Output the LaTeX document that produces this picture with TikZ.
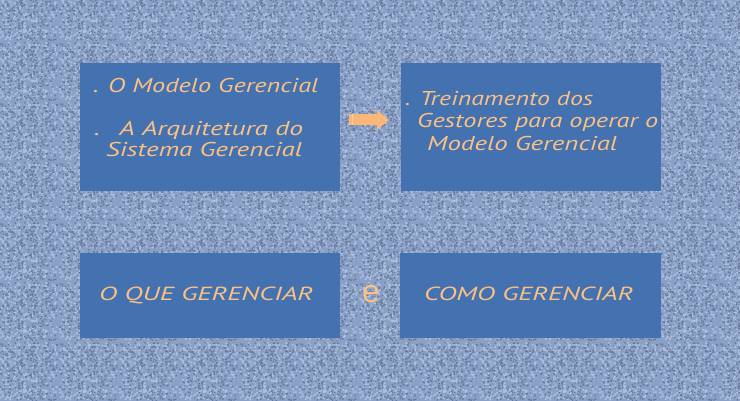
\documentclass[tikz,border=0pt]{standalone}
\usepackage{fontspec}
\usepackage{graphicx}
\usetikzlibrary{patterns}
\setmainfont{PT Sans}
\newfontfamily\efont{Liberation Sans}
\definecolor{bgc}{RGB}{138,160,198}
\definecolor{bglight}{RGB}{174,194,226}
\definecolor{bgdark}{RGB}{104,122,156}
\definecolor{boxc}{RGB}{68,114,176}
\definecolor{txtc}{RGB}{250,192,132}
\definecolor{arrc}{RGB}{251,182,122}
\newcommand\fitw[2]{\resizebox{#1}{\height}{#2}}
\pgfmathsetseed{7}
\pgfdeclarepatterninherentlycolored{granite}{\pgfpointorigin}{\pgfqpoint{60pt}{60pt}}{\pgfqpoint{60pt}{60pt}}{%
  \pgfsetfillcolor{bgc}%
  \pgfpathrectangle{\pgfqpoint{-0.5pt}{-0.5pt}}{\pgfqpoint{61pt}{61pt}}\pgfusepath{fill}%
  \pgfsetfillcolor{bglight}%
  \foreach \i in {1,...,330}{%
    \pgfmathsetmacro\px{58.4*rnd}\pgfmathsetmacro\py{58.4*rnd}%
    \pgfpathrectangle{\pgfpoint{\px pt}{\py pt}}{\pgfpoint{1.6pt}{1.6pt}}\pgfusepath{fill}%
  }%
  \pgfsetfillcolor{bgdark}%
  \foreach \i in {1,...,280}{%
    \pgfmathsetmacro\px{58.5*rnd}\pgfmathsetmacro\py{58.5*rnd}%
    \pgfpathrectangle{\pgfpoint{\px pt}{\py pt}}{\pgfpoint{1.5pt}{1.5pt}}\pgfusepath{fill}%
  }%
}
\begin{document}
\begin{tikzpicture}[x=1pt,y=-1pt,
  panel/.style={fill=boxc, draw=none, inner sep=0pt, anchor=north west},
  txtline/.style={anchor=base west, inner sep=0pt, text=txtc, font=\itshape\fontsize{20}{24}\selectfont},
  capline/.style={anchor=base west, inner sep=0pt, text=txtc, font=\itshape\fontsize{19}{22}\selectfont}]
\useasboundingbox (0,0) rectangle (740,400);
\fill[bgc] (0,0) rectangle (740,400);
\fill[pattern=granite] (0,0) rectangle (740,400);
% panels
\node[panel, minimum width=260pt, minimum height=128pt] (p1) at (80,63) {};
\node[panel, minimum width=260pt, minimum height=128pt] (p2) at (401,63) {};
\node[panel, minimum width=260pt, minimum height=85pt] (p3) at (80,253) {};
\node[panel, minimum width=261pt, minimum height=85pt] (p4) at (400,253) {};
% texts top-left
\node[txtline] (t1) at (93,92) {\fitw{225pt}{. O Modelo Gerencial}};
\node[txtline] (t2) at (94,135) {\fitw{209pt}{.\hspace{0.7em}A Arquitetura do}};
\node[txtline] (t3) at (106,156) {\fitw{196pt}{Sistema Gerencial}};
% texts top-right
\node[txtline] (t4) at (405,105) {\fitw{188pt}{. Treinamento dos}};
\node[txtline] (t5) at (417,127) {\fitw{241pt}{Gestores para operar o}};
\node[txtline] (t6) at (427,150) {\fitw{190pt}{Modelo Gerencial}};
% bottom
\node[capline] (t7) at (99,300) {\fitw{214pt}{O QUE GERENCIAR}};
\node[capline] (t8) at (424,300) {\fitw{209pt}{COMO GERENCIAR}};
\node[anchor=base, inner sep=0pt, text=txtc, font=\efont\fontsize{32}{36}\selectfont] (e) at (371,302) {e};
% arrow
\coordinate (ar) at (349,119.5);
\fill[arrc] (ar) ++(0,-5.5) -- ++(28,0) -- ++(0,-4) -- (389,120) -- (377,130) -- (377,125) -- (349,125) -- cycle;
\draw[white, opacity=0.35, line width=0.6pt] (352.5,114) -- (352.5,125);
\end{tikzpicture}
\end{document}
